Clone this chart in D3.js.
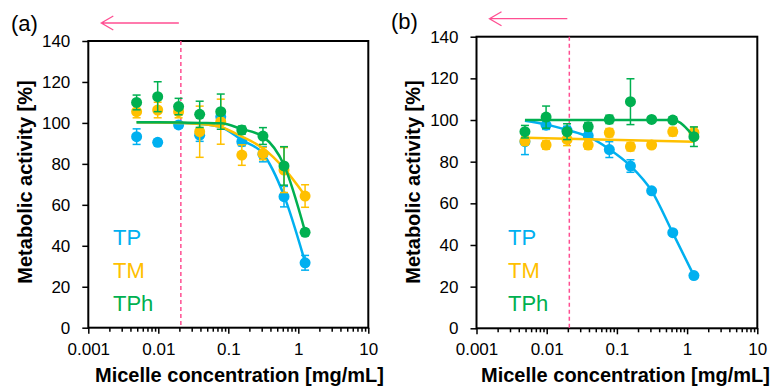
<!DOCTYPE html>
<html>
<head>
<meta charset="utf-8">
<script src="https://cdn.jsdelivr.net/npm/d3@7"></script>
<style>
  body { margin: 0; background: #fff; }
  text { font-family: Arial, "Liberation Sans", sans-serif; }
</style>
</head>
<body>
<svg id="chart" width="780" height="387"></svg>
<script>
// micelle concentrations (mg/mL), two-fold dilution series
const conc = [0.0049, 0.0098, 0.0195, 0.039, 0.078, 0.156, 0.3125, 0.625, 1.25];
const cmcLine = 0.021;

// panel (a)
const tpA = [93.3, 90.5, 99, 94, 103, 90.8, 84.7, 64, 31.7];
const tpAErr = [3.8, 1.5, 1.5, 3, 2.5, 2, 3.7, 5, 3.6];
const tmA = [105.5, 106.3, 105.5, 95.7, 100.6, 84.3, 85, 77, 64.3];
const tmAErr = [3, 3.8, 3, 12.5, 11, 5, 3, 11, 5.5];
const tphA = [110, 112.8, 108, 104.2, 105.5, 96.5, 93.6, 79, 46.6];
const tphAErr = [3.6, 7.3, 4, 6.4, 8.6, 2, 4.1, 9.4, 1.5];
const tpAFit = [100.3, 100.2, 100, 99.5, 98, 91.6, 85, 64.5, 32];
const tmAFit = [100.3, 100.2, 100, 99.5, 98, 93.3, 87.6, 77.8, 64.5];
const tphAFit = [100.3, 100.3, 100.2, 100, 99.8, 97, 93.3, 79.4, 46.9];

// panel (b)
const tpB = [89.6, 97.5, 95, 92.5, 85.8, 77.9, 66, 45.9, 25.3];
const tpBErr = [6.2, 2, 2, 2, 3.8, 3, 1, 1, 1];
const tmB = [89.9, 88, 90.7, 88, 93.9, 87.2, 88, 94.4, 94];
const tmBErr = [2, 2, 3, 2, 2, 2, 1.5, 2, 2.5];
const tphB = [94.4, 101.4, 94.4, 96.8, 100.3, 108.8, 100.3, 100, 92];
const tphBErr = [3, 5.3, 3.8, 2, 2, 11, 1, 1.5, 4.7];
const tpBFit = [99.7, 97.9, 95.2, 92, 86, 78, 66, 45.8, 25.3];
const tmBFitX = [0.0049, 1.25];
const tmBFit = [91.5, 89.6];
const tphBFitX = [0.0049, 0.625, 1.25];
const tphBFit = [100, 100, 92];

const seriesNames = ["TP", "TM", "TPh"];
const colors = ["#00b0f0", "#ffc000", "#00b050"];
const yTicks = [0, 20, 40, 60, 80, 100, 120, 140];
const xMajor = [0.001, 0.01, 0.1, 1, 10];
const pink = "#ff4f92";

const svg = d3.select("#chart");

function drawPanel(p) {
  const g = svg.append("g");
  const x = d3.scaleLog().domain([0.001, 10]).range([p.left, p.right]);
  const y = d3.scaleLinear().domain([0, 140]).range([p.bottom, p.top]);

  // minor x ticks
  const minor = [];
  xMajor.slice(0, -1).forEach(d => { for (let k = 2; k <= 9; k++) minor.push(d * k); });
  g.append("g")
    .attr("transform", `translate(0,${p.bottom})`)
    .call(d3.axisBottom(x).tickValues(minor).tickSize(4).tickFormat(""))
    .call(a => a.select(".domain").remove())
    .call(a => a.selectAll("line").attr("stroke-width", 1.5));

  g.append("g")
    .attr("transform", `translate(0,${p.bottom})`)
    .call(d3.axisBottom(x).tickValues(xMajor).tickSize(6).tickPadding(9)
      .tickFormat(d => String(d)))
    .call(a => a.select(".domain").remove())
    .call(a => a.selectAll("line").attr("stroke-width", 1.5))
    .call(a => a.selectAll("text").attr("font-size", 17).attr("fill", "#000")
      .style("font-family", "Arial, 'Liberation Sans', sans-serif"));

  g.append("g")
    .attr("transform", `translate(${p.left},0)`)
    .call(d3.axisLeft(y).tickValues(yTicks).tickSize(6).tickPadding(12))
    .call(a => a.select(".domain").remove())
    .call(a => a.selectAll("line").attr("stroke-width", 1.5))
    .call(a => a.selectAll("text").attr("font-size", 17).attr("fill", "#000")
      .style("font-family", "Arial, 'Liberation Sans', sans-serif"));

  // plot frame
  g.append("rect")
    .attr("x", p.left).attr("y", p.top)
    .attr("width", p.right - p.left).attr("height", p.bottom - p.top)
    .attr("fill", "none").attr("stroke", "#000").attr("stroke-width", 2);

  // CMC dashed line
  g.append("line")
    .attr("x1", x(cmcLine)).attr("x2", x(cmcLine))
    .attr("y1", p.top).attr("y2", p.bottom)
    .attr("stroke", pink).attr("stroke-width", 1.5)
    .attr("stroke-dasharray", "4,3");

  // arrow above the plot
  const ax0 = x(cmcLine) - 2, ax1 = p.left + 13, ay = p.top - 18;
  g.append("path")
    .attr("d", `M${ax0},${ay}H${ax1}M${ax1 + 12},${ay - 7}L${ax1},${ay}L${ax1 + 12},${ay + 7}`)
    .attr("fill", "none").attr("stroke", pink).attr("stroke-width", 1.3);

  const line = d3.line()
    .x(d => x(d[0])).y(d => y(d[1]))
    .curve(d3.curveMonotoneX);

  p.series.forEach((s, i) => {
    const col = colors[i];
    const sg = g.append("g");
    sg.append("path")
      .datum(s.fitX.map((c, j) => [c, s.fit[j]]))
      .attr("d", line)
      .attr("fill", "none").attr("stroke", col).attr("stroke-width", 2.5);

    const pts = conc.map((c, j) => ({ c, v: s.vals[j], e: s.err[j] }));
    const eb = sg.append("g").selectAll("g").data(pts).join("g")
      .attr("stroke", col).attr("stroke-width", 1.5);
    eb.append("line")
      .attr("x1", d => x(d.c)).attr("x2", d => x(d.c))
      .attr("y1", d => y(d.v - d.e)).attr("y2", d => y(d.v + d.e));
    [-1, 1].forEach(sign => {
      eb.append("line")
        .attr("x1", d => x(d.c) - 4).attr("x2", d => x(d.c) + 4)
        .attr("y1", d => y(d.v + sign * d.e)).attr("y2", d => y(d.v + sign * d.e));
    });

    sg.append("g").selectAll("circle").data(pts).join("circle")
      .attr("cx", d => x(d.c)).attr("cy", d => y(d.v))
      .attr("r", 5.5).attr("fill", col);
  });

  // legend text
  seriesNames.forEach((name, i) => {
    g.append("text")
      .attr("x", p.legendX).attr("y", 245 + i * 33)
      .attr("font-size", 22).attr("fill", colors[i])
      .text(name);
  });

  // axis titles
  g.append("text")
    .attr("transform", `translate(${p.yLabelX},182) rotate(-90)`)
    .attr("text-anchor", "middle")
    .attr("font-size", 20).attr("font-weight", "bold")
    .text("Metabolic activity [%]");

  g.append("text")
    .attr("x", p.xLabelX).attr("y", p.xLabelY)
    .attr("font-size", 20).attr("font-weight", "bold")
    .text("Micelle concentration [mg/mL]");

  g.append("text")
    .attr("x", p.tagX).attr("y", p.tagY)
    .attr("font-size", 22)
    .text(p.tag);
}

drawPanel({
  tag: "(a)", tagX: 11, tagY: 31,
  left: 88.3, right: 368.3, top: 41, bottom: 327.7,
  legendX: 113, yLabelX: 32, xLabelX: 95, xLabelY: 381.5,
  series: [
    { vals: tpA, err: tpAErr, fitX: conc, fit: tpAFit },
    { vals: tmA, err: tmAErr, fitX: conc, fit: tmAFit },
    { vals: tphA, err: tphAErr, fitX: conc, fit: tphAFit }
  ]
});

drawPanel({
  tag: "(b)", tagX: 391, tagY: 28.5,
  left: 476.5, right: 757.3, top: 36.7, bottom: 328.3,
  legendX: 508, yLabelX: 420, xLabelX: 481, xLabelY: 382,
  series: [
    { vals: tpB, err: tpBErr, fitX: conc, fit: tpBFit },
    { vals: tmB, err: tmBErr, fitX: tmBFitX, fit: tmBFit },
    { vals: tphB, err: tphBErr, fitX: tphBFitX, fit: tphBFit }
  ]
});
</script>
</body>
</html>
